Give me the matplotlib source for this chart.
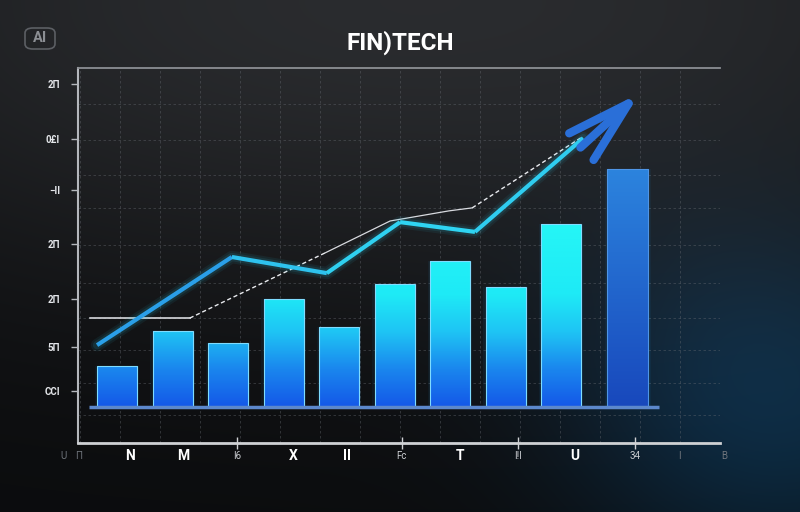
import numpy as np
import matplotlib
matplotlib.use("Agg")
import matplotlib.pyplot as plt
from matplotlib.patches import FancyBboxPatch
from matplotlib.colors import LinearSegmentedColormap
from matplotlib.transforms import blended_transform_factory

# ---------------- data ----------------
title = "FIN)TECH"
badge = "AI"
bar_x = [0, 1, 2, 3, 4, 5, 6, 7, 8, 9.2]
bar_h = [10.9, 20.3, 17.1, 28.8, 21.3, 32.8, 38.9, 32.0, 48.8, 63.5]
trend_x = [-0.36, 2.07, 3.78, 5.10, 6.45, 8.40]
trend_y = [16.5, 40.0, 35.7, 49.3, 46.7, 71.7]
arrow_tip = (9.42, 83.7)
ref_solid1_x = [-0.49, 1.31]
ref_solid1_y = [23.7, 23.7]
ref_dash1_x = [1.31, 3.75]
ref_dash1_y = [23.7, 41.1]
ref_solid2_x = [3.75, 4.92, 5.98, 6.40]
ref_solid2_y = [41.1, 49.6, 52.3, 53.1]
ref_dash2_x = [6.40, 8.38]
ref_dash2_y = [53.1, 72.0]
ytick_vals = [86.1, 71.5, 57.9, 43.5, 28.8, 16.0, 4.3]
ytick_labels = ["2Π", "0£I", "−II", "2Π", "2Π", "5Π", "CCI"]
xlab_pos = [-0.97, -0.70, 0.23, 1.19, 2.16, 3.17, 4.14, 5.13, 6.18, 7.22, 8.25, 9.33, 10.14, 10.95]
xlab_text = ["U", "Π", "N", "M", "I6", "X", "II", "Fc", "T", "I!I", "U", "34", "I", "B"]
xlab_strong = [False, False, True, True, False, True, True, False, True, False, True, False, False, False]
xtick_marks = [2.16, 5.13, 7.22, 9.33]

FONT = ["Roboto", "DejaVu Sans"]

W, H = 800, 512
fig = plt.figure(figsize=(8, 5.12), dpi=100)

# ---------------- background ----------------
yy, xx = np.mgrid[0:H, 0:W].astype(float)
g = 0.04 + 0.125 * np.exp(-(yy / 300.0) ** 2) * (1 - 0.25 * ((xx - 420) / 420) ** 2)
img = np.dstack([g, g * 1.02 + 0.003, g * 1.06 + 0.008])
d2 = (xx - 800) ** 2 + ((yy - 410) * 1.2) ** 2
glow = np.exp(-d2 / (2 * 150.0 ** 2))
img[..., 1] += 0.10 * glow
img[..., 2] += 0.17 * glow
d3 = (xx - 690) ** 2 + (yy - 360) ** 2
glow2 = np.exp(-d3 / (2 * 110.0 ** 2))
img[..., 1] += 0.025 * glow2
img[..., 2] += 0.05 * glow2
img = np.clip(img, 0, 1)
bg = fig.add_axes([0, 0, 1, 1], zorder=-10)
bg.imshow(img, extent=(0, 1, 0, 1), aspect="auto", origin="upper")
bg.axis("off")

# ---------------- main axes ----------------
ax = fig.add_axes([78 / W, 1 - 443 / H, (720 - 78) / W, (443 - 68) / H])
ax.set_facecolor("none")
ax.set_xlim(-0.703, -0.703 + 642 / 55.5)
ax.set_ylim(-9.6, -9.6 + 100)

# grid
for f in np.arange(2, 642, 40) / 642.0:
    ax.plot([f, f], [0, 1], transform=ax.transAxes, color="#6a6e75", lw=0.6,
            ls=(0, (3, 3)), alpha=0.45, zorder=0)
for py in [104, 140, 175, 208, 245, 283, 318, 350, 383, 415]:
    f = (443 - py) / 375.0
    ax.plot([0, 1], [f, f], transform=ax.transAxes, color="#6a6e75", lw=0.6,
            ls=(0, (3, 3)), alpha=0.45, zorder=0)

# spines
ax.spines["right"].set_visible(False)
ax.spines["left"].set_color("#b4b7bc")
ax.spines["left"].set_linewidth(1.5)
ax.spines["top"].set_color("#8c8f94")
ax.spines["top"].set_linewidth(1.3)
ax.spines["bottom"].set_color("#cfd1d4")
ax.spines["bottom"].set_linewidth(2)

# y ticks
ax.set_yticks(ytick_vals)
ax.set_yticklabels(ytick_labels, family=FONT, fontsize=7, fontweight="bold", color="#e4e6ea")
ax.tick_params(axis="y", colors="#b4b7bc", length=5, width=1, pad=8, labelcolor="#e4e6ea")

# x tick marks (no labels)
ax.set_xticks(xtick_marks)
ax.set_xticklabels([])
ax.tick_params(axis="x", colors="#cfd1d4", length=9, width=1, direction="inout")

# x labels as text
tr = blended_transform_factory(ax.transData, ax.transAxes)
for xp, t, strong in zip(xlab_pos, xlab_text, xlab_strong):
    if strong:
        ax.text(xp, -0.035, t, transform=tr, ha="center", va="center", family=FONT,
                fontsize=10, fontweight="bold", color="#ffffff", clip_on=False)
    else:
        c = "#c9ccd0" if t in ("I6", "Fc", "I!I", "34") else "#6f747b"
        ax.text(xp, -0.035, t, transform=tr, ha="center", va="center", family=FONT,
                fontsize=7, color=c, clip_on=False)

# ---------------- bars ----------------
w = 40 / 55.5
cmap_bar = LinearSegmentedColormap.from_list(
    "bars", [(0.0, "#1458e8"), (0.2, "#1a86ee"), (0.4, "#1fc4f4"), (0.6, "#1eeaf6"), (1.0, "#26f6f6")])
cmap_last = LinearSegmentedColormap.from_list("last", [(0.0, "#1848bc"), (1.0, "#2c84de")])
grad = np.linspace(0, 1, 256).reshape(-1, 1)
top_abs = 50.0
for i, (x, h) in enumerate(zip(bar_x, bar_h)):
    last = i == len(bar_x) - 1
    ww = w * (1.03 if last else 1.0)
    rect = ax.bar(x, h, width=ww, bottom=0, color="none",
                  edgecolor="#7fdcff" if not last else "#4f95e6", lw=0.8, zorder=3)[0]
    if last:
        im = ax.imshow(grad, extent=(x - ww / 2, x + ww / 2, 0, h), origin="lower",
                       cmap=cmap_last, aspect="auto", zorder=2)
    else:
        frac = min(h / top_abs, 1.0)
        sub = np.linspace(0, frac, 256).reshape(-1, 1)
        im = ax.imshow(sub, extent=(x - ww / 2, x + ww / 2, 0, h), origin="lower",
                       cmap=cmap_bar, vmin=0, vmax=1, aspect="auto", zorder=2)
    im.set_clip_path(rect)
    ax.bar(x, h, width=ww * 1.12, bottom=0, color="#1aa8ff", alpha=0.06, zorder=1, lw=0)

# baseline under bars
ax.hlines(0, bar_x[0] - w / 2 - 0.15, bar_x[-1] + w / 2 + 0.2, color="#5c88cc", lw=2.5, zorder=4)

# ---------------- reference white line ----------------
ax.plot(ref_solid1_x, ref_solid1_y, color="#e8eaee", lw=1.1, zorder=5)
ax.plot(ref_dash1_x, ref_dash1_y, color="#e8eaee", lw=1.0, ls=(0, (3, 2)), zorder=5)
ax.plot(ref_solid2_x, ref_solid2_y, color="#d8dadf", lw=0.9, zorder=5)
ax.plot(ref_dash2_x, ref_dash2_y, color="#e8eaee", lw=1.0, ls=(0, (3, 2)), zorder=5)

# ---------------- trend line ----------------
ax.plot(trend_x, trend_y, color="#2fd4f2", lw=9, alpha=0.07, solid_capstyle="round", zorder=5)
ax.plot(trend_x, trend_y, color="#2fd4f2", lw=6, alpha=0.10, solid_capstyle="round", zorder=5)
seg_colors = ["#2a9fe8", "#2ec2ee", "#2fd0f0", "#2fd4f2", "#2fcdf0"]
for k in range(len(trend_x) - 1):
    ax.plot(trend_x[k:k + 2], trend_y[k:k + 2], color=seg_colors[k], lw=3.0,
            solid_capstyle="butt", solid_joinstyle="miter", zorder=6)

ax.annotate("", xy=arrow_tip, xytext=(trend_x[-1] - 0.05, trend_y[-1] - 2.5),
            arrowprops=dict(arrowstyle="->,head_length=2.3,head_width=0.65", color="#2a6fd8",
                            lw=6, mutation_scale=20, shrinkA=0, shrinkB=0),
            zorder=7)

# ---------------- title & badge ----------------
fig.text(0.5, 1 - 43 / H, title, ha="center", va="center", family=FONT,
         fontsize=17.5, fontweight="bold", color="#ffffff")
badge_box = FancyBboxPatch((25 / W, 1 - 49 / H), 30 / W, 21 / H,
                           boxstyle="round,pad=0.0,rounding_size=0.01",
                           transform=fig.transFigure, fc="none", ec="#5c5f64", lw=1.2)
fig.add_artist(badge_box)
fig.text(40 / W, 1 - 38.5 / H, badge, ha="center", va="center", family=FONT,
         fontsize=10.5, fontweight="bold", color="#8c8f94")

fig.savefig("out.png", dpi=100)
